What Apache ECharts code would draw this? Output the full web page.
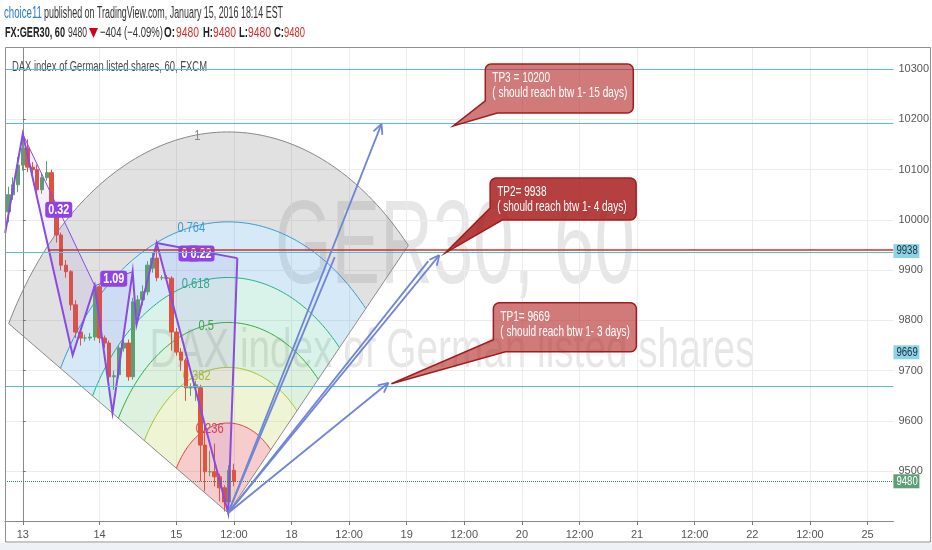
<!DOCTYPE html>
<html><head><meta charset="utf-8">
<script src="https://cdn.jsdelivr.net/npm/echarts@6/dist/echarts.min.js"></script>
<style>html,body{margin:0;padding:0;background:#fff;}#c{width:932px;height:550px;}</style>
</head><body><div id="c"></div>
<script>
// ---------------- data ----------------
const xTickBars   = [0,16,32,44,56,68,80,92,104,116,128,140,152,164,176];
const xTickLabels = ['13','14','15','12:00','18','12:00','19','12:00','20','12:00','21','12:00','22','12:00','25'];
const yTickValues = [9500,9600,9700,9800,9900,10000,10100,10200,10300];

const barIndex = [-3,-2,-1,0,1,2,3,4,5,6,7,8,9,10,11,12,13,14,15,16,17,18,19,20,21,22,23,24,25,26,27,28,29,30,31,32,33,34,35,36,37,38,39,40,41,42,43,44];
const openP  = [10016,10050,10070,10109,10143,10105,10100,10060,10084,10094,10014,9970,9910,9897,9831,9777,9765,9765,9767,9867,9765,9755,9688,9692,9745,9755,9688,9810,9841,9857,9904,9924,9885,9885,9884,9777,9737,9721,9666,9666,9666,9552,9499,9499,9489,9467,9439,9502];
const closeP = [10050,10070,10109,10143,10105,10100,10060,10084,10094,10014,9970,9910,9897,9831,9777,9765,9765,9767,9867,9765,9755,9688,9690,9745,9755,9688,9837,9841,9857,9910,9924,9885,9885,9884,9777,9737,9721,9666,9666,9672,9552,9499,9499,9489,9467,9439,9502,9480];
const lowP   = [9995,10040,10055,10098,10095,10090,10050,10052,10078,10005,9955,9900,9885,9820,9765,9750,9758,9760,9760,9755,9745,9680,9662,9685,9738,9680,9682,9800,9830,9850,9895,9878,9880,9878,9740,9730,9700,9640,9650,9640,9480,9460,9490,9470,9440,9420,9425,9470];
const highP  = [10066,10085,10125,10169,10160,10115,10110,10092,10117,10100,10020,9975,9920,9900,9840,9785,9772,9775,9875,9870,9770,9760,9700,9750,9770,9762,9845,9850,9870,9918,9935,9954,9890,9890,9888,9785,9745,9725,9675,9680,9672,9590,9540,9555,9495,9472,9512,9515];

// harmonic zigzag pivots
const zigBar   = [-3.67, 0, 10.4, 15.0, 18.7, 22.9, 23.7, 27.9, 42.8, 44.7];
const zigPrice = [9974, 10171, 9731, 9869, 9616, 9897, 9791, 9954, 9417, 9924];
const ratioFrom  = [1, 3, 7];
const ratioTo    = [3, 5, 9];
const ratioText  = ['0.32', '1.09', '0.22'];

// fib wedge
const wedgeCenter = [42.8, 9417];
const wedgeRadius = [52.7, 758];      // level-1 radius in bars / price
const wedgeFromDeg = 44.6, wedgeToDeg = 150.2;
const fibLevels = [0.236, 0.382, 0.5, 0.618, 0.764, 1];
const fibLabels = ['0.236', '0.382', '0.5', '0.618', '0.764', '1'];

// projection arrows (from wedge centre)
const arrowBar   = [74.75, 86.8, 76.2, 65.0, 84.5];
const arrowPrice = [10191, 9930, 9676, 9926, 9918];
const arrowHead  = [1, 1, 1, 0, 0];

// horizontal levels
const cyanLevels = [10300, 10192, 9936, 9669];
const redRayStartBar = 5.3, redRayPrice = 9940;
const lastPrice = 9480;
const priceTags = [9938, 9669, 9480];

// callouts
const calloutTipBar   = [89.7, 88.0, 76.8];
const calloutTipPrice = [10187, 9934, 9674];
const calloutTitle = ['TP3 = 10200', 'TP2= 9938', 'TP1= 9669'];
const calloutNote  = ['( should reach btw 1- 15 days)', '( should reach btw 1- 4 days)', '( should reach btw 1- 3 days)'];

// ---------------- styles / layout ----------------
const FONT = "'Liberation Sans', Arial, sans-serif";
const mctx = document.createElement('canvas').getContext('2d');
function measure(t, size, weight){ mctx.font = (weight||'normal')+' '+size+'px '+FONT; return mctx.measureText(t).width; }
function fit(t, size, w, weight){ return w / measure(t, size, weight); }

const fibLabelDeg = [108, 109, 100, 102, 101, 97];
const fibLineColors = ['#e04040', '#a3c62e', '#35ad3c', '#27b185', '#3a9bd4', '#888888'];
const fibFillColors = ['rgba(226,72,72,0.28)', 'rgba(178,206,60,0.22)', 'rgba(70,180,70,0.18)', 'rgba(45,181,138,0.18)', 'rgba(62,159,214,0.22)', 'rgba(120,120,120,0.22)'];
const calloutBox  = [[32,-62,180,-13],[45,-75,191,-33],[102,-81,245,-32]];
const calloutFill = ['rgba(180,40,40,0.62)','rgba(168,28,28,0.84)','rgba(180,40,40,0.62)'];
const tagStyle = [
  {bg:'#8fd2e6', fg:'#16323e', dy:0},
  {bg:'#8fd2e6', fg:'#16323e', dy:-34},
  {bg:'#5f9e76', fg:'#ffffff', dy:0}
];
const PURPLE = '#8a4be0';
const ARROW = '#6f86d6';
const WATERMARK = 'rgba(90,90,90,0.15)';

const candleData = barIndex.map((b,k)=>[b, openP[k], closeP[k], lowP[k], highP[k]]);
const zigData = zigBar.map((b,k)=>[b, zigPrice[k]]);

function txt(text, x, y, size, color, w, weight, align){
  const s = fit(text, size, w, weight);
  return {type:'text', x:x, y:y, scaleX:s, z:5,
    style:{text:text, x:0, y:0, fill:color, fontSize:size, fontFamily:FONT, fontWeight:weight||'normal',
      textAlign:align||'left', textVerticalAlign:'middle'}};
}

function calloutPoints(x0,y0,x1,y1,r,tx,ty,bw,bh){
  const pts=[];
  const corner=(cx,cy,a0,a1)=>{for(let k=0;k<=6;k++){const a=(a0+(a1-a0)*k/6)*Math.PI/180;pts.push([cx+r*Math.cos(a),cy+r*Math.sin(a)]);}};
  corner(x0+r,y0+r,180,270);
  corner(x1-r,y0+r,270,360);
  corner(x1-r,y1-r,0,90);
  pts.push([x0+bw,y1]); pts.push([tx,ty]); pts.push([x0,y1-bh]);
  return pts;
}

const chart = echarts.init(document.getElementById('c'));
const option = {
  animation:false,
  backgroundColor:'#ffffff',
  grid:{left:5, right:35, top:48, bottom:29},
  xAxis:{type:'value', min:-3.7, max:181.4,
    axisLine:{show:true, onZero:false, lineStyle:{color:'#8a8a8a'}},
    axisTick:{show:true, customValues:xTickBars, length:4, lineStyle:{color:'#777'}},
    axisLabel:{customValues:xTickBars, color:'#555', fontSize:11, fontFamily:FONT, margin:8,
      formatter:(v)=>{const k=xTickBars.indexOf(v); return k>=0?xTickLabels[k]:'';}},
    splitLine:{show:true, lineStyle:{color:'#ececec', width:1}}},
  yAxis:{type:'value', position:'right', min:9401, max:10342, scale:true,
    axisLine:{show:true, lineStyle:{color:'#8a8a8a'}},
    axisTick:{show:true, customValues:yTickValues, length:3, lineStyle:{color:'#777'}},
    axisLabel:{customValues:yTickValues, color:'#555', fontSize:11, fontFamily:FONT, margin:5,
      formatter:(v)=>String(v)},
    splitLine:{show:true, lineStyle:{color:'#ececec', width:1}}},
  graphic:[
    {type:'rect', z:-1, shape:{x:0,y:543,width:932,height:7}, style:{fill:'#eef2f6'}},
    {type:'rect', z:6, shape:{x:5.5,y:47.5,width:925,height:494.5}, style:{fill:null, stroke:'#8f8f8f', lineWidth:1}},
    // watermark
    Object.assign(txt('GER30, 60', 455, 250, 118, WATERMARK, 360, 'normal', 'center'), {z:0}),
    Object.assign(txt('DAX index of German listed shares', 452, 352, 56, WATERMARK, 605, 'normal', 'center'), {z:0}),
    txt('DAX index of German listed shares, 60, FXCM', 12, 67, 15, '#4a4a4a', 195),
    // header
    txt('choice11', 4, 14, 16, '#2b7bbf', 38),
    txt('published on TradingView.com, January 15, 2016 18:14 EST', 44, 14, 16, '#333', 239),
    txt('FX:GER30, 60', 5, 33, 15, '#222', 60, 'bold'),
    txt('9480', 68, 33, 15, '#333', 19),
    {type:'polygon', z:5, shape:{points:[[89,28],[98,28],[93.5,38]]}, style:{fill:'#d0021b'}},
    txt('\u2212404 (\u22124.09%)', 100, 33, 15, '#333', 63),
    txt('O:', 164, 33, 15, '#222', 11, 'bold'), txt('9480', 176, 33, 15, '#d0312d', 23),
    txt('H:', 203, 33, 15, '#222', 10, 'bold'), txt('9480', 213, 33, 15, '#d0312d', 23),
    txt('L:', 239, 33, 15, '#222', 9, 'bold'),  txt('9480', 248, 33, 15, '#d0312d', 23),
    txt('C:', 274, 33, 15, '#222', 10, 'bold'), txt('9480', 284, 33, 15, '#d0312d', 21)
  ],
  series:[
    // fib wedge
    {type:'custom', z:1, silent:true, clip:true, data:[wedgeCenter], encode:{x:0,y:1},
     renderItem:(params, api)=>{
       const pt=(r,deg)=>{const t=deg*Math.PI/180;return api.coord([wedgeCenter[0]+r*wedgeRadius[0]*Math.cos(t), wedgeCenter[1]+r*wedgeRadius[1]*Math.sin(t)]);};
       const arc=(r)=>{const a=[];const N=90;for(let k=0;k<=N;k++){a.push(pt(r, wedgeFromDeg+(wedgeToDeg-wedgeFromDeg)*k/N));}return a;};
       const c=api.coord(wedgeCenter);
       const ch=[]; let prev=null;
       fibLevels.forEach((lv,j)=>{const o=arc(lv);const poly=prev?o.concat(prev.slice().reverse()):o.concat([c]);
         ch.push({type:'polygon', shape:{points:poly}, style:{fill:fibFillColors[j]}}); prev=o;});
       fibLevels.forEach((lv,j)=>{ch.push({type:'polyline', shape:{points:arc(lv)}, style:{stroke:fibLineColors[j], lineWidth:1, fill:null}});});
       [wedgeFromDeg, wedgeToDeg].forEach(d=>{const e=pt(1,d);ch.push({type:'line', shape:{x1:c[0],y1:c[1],x2:e[0],y2:e[1]}, style:{stroke:'#8c8c8c', lineWidth:1}});});
       fibLevels.forEach((lv,j)=>{const p=pt(lv,fibLabelDeg[j]);ch.push({type:'text', x:p[0], y:p[1]+1, scaleX:0.74,
         style:{text:fibLabels[j], fill:fibLineColors[j], fontSize:15, fontFamily:FONT, textAlign:'center', textVerticalAlign:'middle'}});});
       return {type:'group', children:ch};
     }},
    // level lines
    {type:'line', z:2, data:[], silent:true,
     markLine:{silent:true, symbol:'none', label:{show:false}, animation:false,
       data:[
         ...cyanLevels.map(v=>({yAxis:v, lineStyle:{color:'#5bbcd9', width:1, type:'solid'}})),
         [{coord:[redRayStartBar, redRayPrice], lineStyle:{color:'#c9302c', width:1.5, type:'solid'}},{coord:[181.4, redRayPrice]}],
         {yAxis:lastPrice, lineStyle:{color:'#3f7f5a', width:1, type:'dotted'}}
       ]}},
    // candles
    {type:'candlestick', z:3, data:candleData, encode:{x:0, y:[1,2,3,4]}, barWidth:4,
     itemStyle:{color:'#5e9f72', color0:'#e0533d', borderColor:'#5e9f72', borderColor0:'#e0533d', borderWidth:1}},
    // harmonic pattern
    {type:'custom', z:4, silent:true, data:[[zigBar[0], zigPrice[0]]], encode:{x:0,y:1},
     renderItem:(params, api)=>{
       const P=zigData.map(p=>api.coord(p));
       const ch=[];
       [[1,2,3],[3,4,5],[7,8,9]].forEach(t=>ch.push({type:'polygon', shape:{points:t.map(k=>P[k])}, style:{fill:'rgba(138,75,224,0.09)'}}));
       ch.push({type:'polyline', shape:{points:P}, style:{stroke:PURPLE, lineWidth:2, fill:null}});
       ratioFrom.forEach((f,k)=>{ch.push({type:'line', shape:{x1:P[f][0],y1:P[f][1],x2:P[ratioTo[k]][0],y2:P[ratioTo[k]][1]}, style:{stroke:PURPLE, lineWidth:k===2?2:1}});});
       const box=(cx,cy,t)=>{const w=measure(t,15,'bold')*0.72+6;
         ch.push({type:'rect', shape:{x:cx-w/2,y:cy-8,width:w,height:16,r:3}, style:{fill:'#9142e6'}});
         ch.push({type:'text', x:cx, y:cy, scaleX:0.72, style:{text:t, fill:'#fff', fontSize:15, fontWeight:'bold', fontFamily:FONT, textAlign:'center', textVerticalAlign:'middle'}});};
       ratioFrom.forEach((f,k)=>{const a=P[f],b=P[ratioTo[k]];const mx=(a[0]+b[0])/2,my=(a[1]+b[1])/2;
         if(k===2) box(mx-8,my+3,'0.2');
         box(mx+(k===2?4:0),my+(k===2?3:0),ratioText[k]);});
       return {type:'group', children:ch};
     }},
    // arrows
    {type:'custom', z:5, silent:true, data:arrowBar.map((b,k)=>[b, arrowPrice[k], arrowHead[k]]), encode:{x:0,y:1},
     renderItem:(params, api)=>{
       const c=api.coord(wedgeCenter); const t=api.coord([api.value(0), api.value(1)]);
       const ch=[{type:'line', shape:{x1:c[0],y1:c[1],x2:t[0],y2:t[1]}, style:{stroke:ARROW, lineWidth:1.8}}];
       if(api.value(2)){const ang=Math.atan2(t[1]-c[1], t[0]-c[0]);const L=11;
         [0.45,-0.45].forEach(d=>{ch.push({type:'line', shape:{x1:t[0],y1:t[1],x2:t[0]-L*Math.cos(ang+d),y2:t[1]-L*Math.sin(ang+d)}, style:{stroke:ARROW, lineWidth:1.8}});});}
       return {type:'group', children:ch};
     }},
    // callouts
    {type:'custom', z:8, silent:true, clip:false, data:calloutTipBar.map((b,k)=>[b, calloutTipPrice[k]]), encode:{x:0,y:1},
     renderItem:(params, api)=>{
       const k=params.dataIndex; const t=api.coord([api.value(0), api.value(1)]); const bx=calloutBox[k];
       const x0=t[0]+bx[0], y0=t[1]+bx[1], x1=t[0]+bx[2], y1=t[1]+bx[3];
       const s = fit(calloutNote[0], 14, 135);
       return {type:'group', children:[
         {type:'polygon', shape:{points:calloutPoints(x0,y0,x1,y1,6,t[0],t[1],12,12)}, style:{fill:calloutFill[k], stroke:'#a11d1d', lineWidth:1.5}},
         {type:'text', x:x0+7, y:y0+14, scaleX:s, style:{text:calloutTitle[k], fill:'#fff', fontSize:14, fontFamily:FONT, textVerticalAlign:'middle'}},
         {type:'text', x:x0+7, y:y0+29, scaleX:s, style:{text:calloutNote[k], fill:'#fff', fontSize:14, fontFamily:FONT, textVerticalAlign:'middle'}}
       ]};
     }},
    // price tags
    {type:'custom', z:9, silent:true, clip:false, data:priceTags.map(v=>[181.4, v]), encode:{x:0,y:1},
     renderItem:(params, api)=>{
       const k=params.dataIndex; const p=api.coord([api.value(0), api.value(1)]); const st=tagStyle[k];
       const y=p[1]+st.dy;
       return {type:'group', children:[
         {type:'rect', shape:{x:p[0],y:y-7,width:26,height:14}, style:{fill:st.bg}},
         {type:'text', x:p[0]+3, y:y, scaleX:0.8, style:{text:String(priceTags[k]), fill:st.fg, fontSize:12, fontFamily:FONT, textVerticalAlign:'middle'}}
       ]};
     }}
  ]
};
chart.setOption(option);
</script></body></html>
